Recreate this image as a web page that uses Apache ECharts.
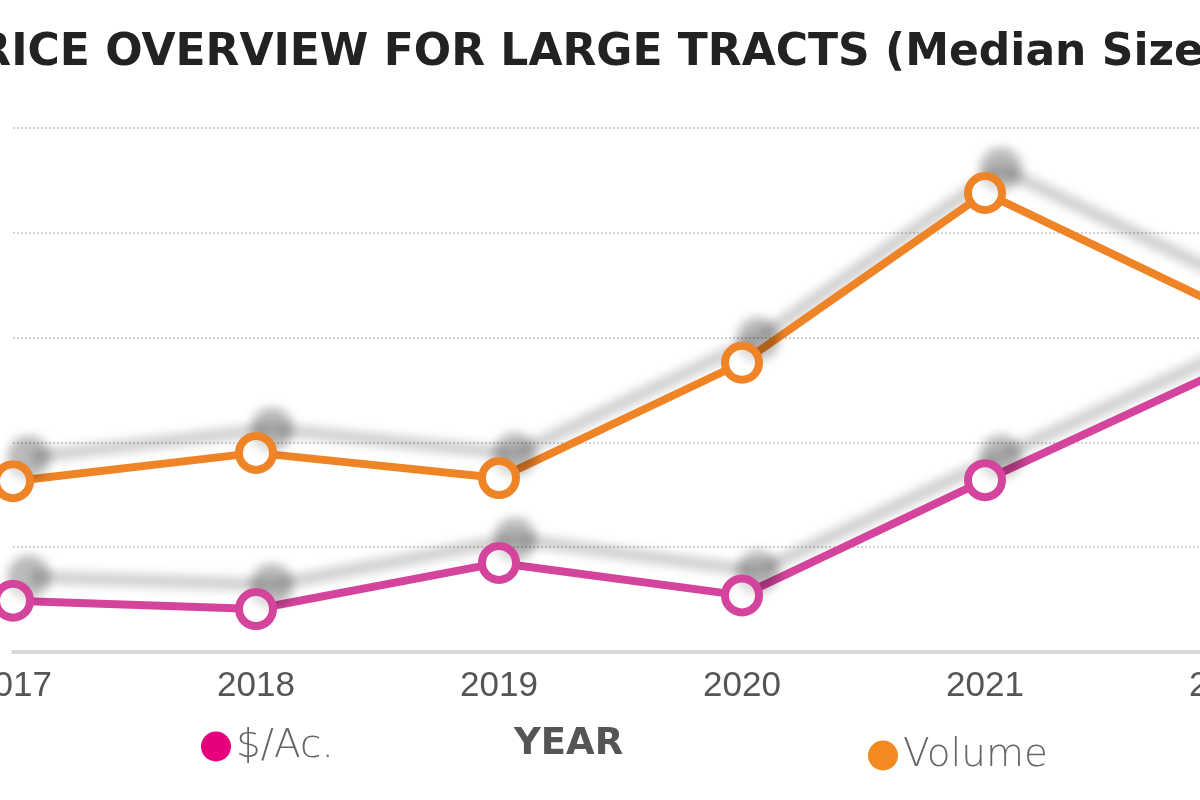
<!DOCTYPE html>
<html>
<head>
<meta charset="utf-8">
<style>
    html, body { margin: 0; padding: 0; width: 1200px; height: 800px; overflow: hidden; background: #fff; }
    .chart { position: absolute; left: -200px; top: 0; width: 1600px; height: 800px; }
</style>
<script src="https://cdn.jsdelivr.net/npm/echarts@6/dist/echarts.min.js"></script>
</head>
<body>
<div class="chart"></div>
<script>
// 数据
var years = ['2017', '2018', '2019', '2020', '2021', '2022'];
var pricePerAcre = [0.49, 0.41, 0.85, 0.54, 1.64, 2.71];
var volume = [1.63, 1.90, 1.66, 2.76, 4.38, 3.27];

(function() {
    var myChart = echarts.init(document.querySelector('.chart'));

    // gray drop shadow, shifted up and right
    var shadow = {
        shadowColor: 'rgba(0,0,0,0.3)',
        shadowBlur: 12,
        shadowOffsetX: 16,
        shadowOffsetY: -24
    };

    function lineSeries(name, color, data) {
        return {
            name: name,
            type: 'line',
            data: data,
            symbol: 'circle',
            symbolSize: 34,
            lineStyle: Object.assign({ color: color, width: 8 }, shadow),
            itemStyle: Object.assign({ color: '#fff', borderColor: color, borderWidth: 8 }, shadow, { shadowColor: 'rgba(0,0,0,0.24)' }),
            emphasis: { disabled: true }
        };
    }

    var legendText = {
        fontSize: 39,
        color: '#666',
        fontFamily: 'DejaVu Sans',
        fontWeight: 200
    };
    var noShadow = { borderWidth: 0, shadowBlur: 0, shadowOffsetX: 0, shadowOffsetY: 0 };

    var option = {
        animation: false,
        title: {
            text: 'PRICE OVERVIEW FOR LARGE TRACTS (Median Size',
            left: 140,
            top: 27,
            textStyle: {
                fontFamily: 'DejaVu Sans',
                fontWeight: 'bold',
                fontSize: 44,
                color: '#222'
            }
        },
        legend: [{
            data: [{ name: '$/Ac.', itemStyle: Object.assign({ color: '#e6007e' }, noShadow) }],
            left: 396,
            top: 722,
            icon: 'circle',
            itemWidth: 30,
            itemHeight: 30,
            itemGap: 6,
            textStyle: legendText
        }, {
            data: [{ name: 'Volume', itemStyle: Object.assign({ color: '#f28a20' }, noShadow) }],
            left: 1063,
            top: 731,
            icon: 'circle',
            itemWidth: 30,
            itemHeight: 30,
            itemGap: 2,
            textStyle: legendText
        }],
        graphic: [{
            type: 'text',
            left: 714,
            top: 726,
            style: {
                text: 'YEAR',
                fontSize: 37,
                fontWeight: 'bold',
                fontFamily: 'DejaVu Sans',
                fill: '#555'
            }
        }],
        grid: {
            left: 213,
            right: 172,
            top: 128,
            bottom: 148
        },
        xAxis: {
            type: 'category',
            data: years,
            boundaryGap: false,
            axisLine: { lineStyle: { color: '#d9d9d9', width: 4 } },
            axisTick: { show: false },
            axisLabel: {
                margin: 17,
                fontSize: 35,
                color: '#555',
                fontFamily: 'Liberation Sans'
            }
        },
        yAxis: {
            type: 'value',
            min: 0,
            max: 5,
            interval: 1,
            axisLabel: { show: false },
            axisLine: { show: false },
            axisTick: { show: false },
            splitLine: { lineStyle: { color: '#d2d2d2', width: 2, type: [2, 2] } }
        },
        series: [
            lineSeries('$/Ac.', '#d4449c', pricePerAcre),
            lineSeries('Volume', '#ef8427', volume)
        ]
    };
    myChart.setOption(option);
})();
</script>
</body>
</html>
